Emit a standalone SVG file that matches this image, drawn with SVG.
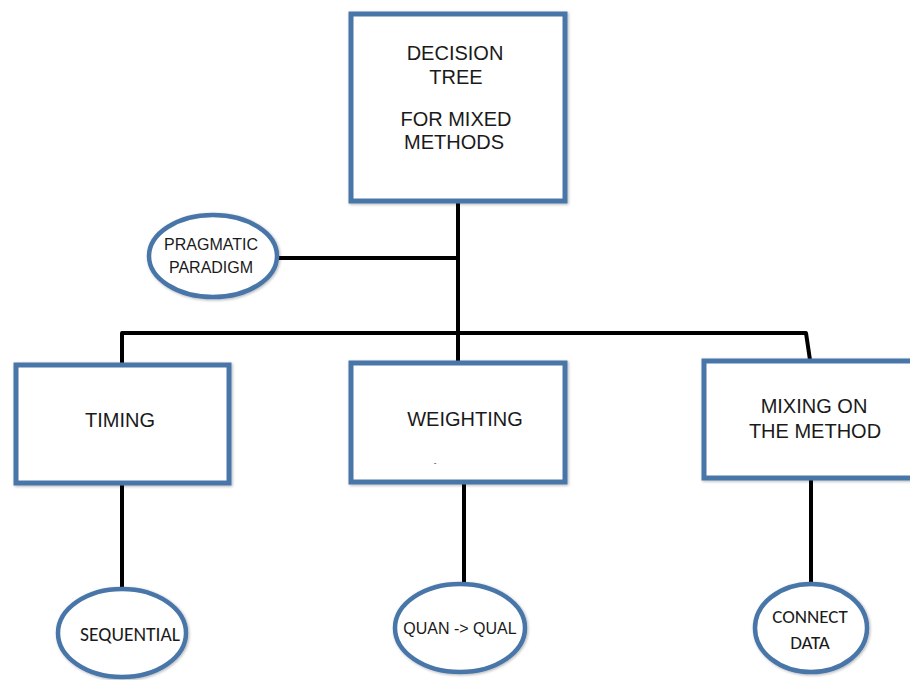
<svg xmlns="http://www.w3.org/2000/svg" width="910" height="680" viewBox="0 0 910 680">
<defs>
<filter id="sh" x="-10%" y="-10%" width="120%" height="120%">
<feGaussianBlur in="SourceAlpha" stdDeviation="1.5"/>
<feOffset dx="1" dy="1" result="b"/>
<feComponentTransfer><feFuncA type="linear" slope="0.3"/></feComponentTransfer>
<feMerge><feMergeNode/><feMergeNode in="SourceGraphic"/></feMerge>
</filter>
</defs>
<style>
.box{fill:#fff;stroke:#4a76a8;stroke-width:5;filter:url(#sh)}
.el{fill:#fff;stroke:#4a76a8;stroke-width:4.5;filter:url(#sh)}
.t{font-family:"Liberation Sans",Arial,sans-serif;fill:#1a1a1a;text-anchor:middle}
.c{font-family:"Carlito","Liberation Sans",Arial,sans-serif;fill:#1a1a1a;text-anchor:middle}
.ln{fill:none;stroke:#000;stroke-width:4;stroke-linejoin:round}
</style>
<rect width="910" height="680" fill="#fff"/>
<g id="connectors">
<path class="ln" d="M458 203 V363"/>
<path class="ln" d="M278 258 H458"/>
<path class="ln" d="M122 364 V333 H806 L810 360"/>
<path class="ln" d="M122 484 V589"/>
<path class="ln" d="M464 483 V583"/>
<path class="ln" d="M811 480 V583"/>
</g>
<g id="root">
<rect class="box" x="351" y="14" width="214" height="187"/>
<text class="t" font-size="20" x="455" y="60">DECISION</text>
<text class="t" font-size="20" x="456" y="84">TREE</text>
<text class="t" font-size="20" x="456" y="126">FOR MIXED</text>
<text class="t" font-size="20" x="454" y="149">METHODS</text>
</g>
<g id="pragmatic">
<ellipse class="el" cx="213" cy="256" rx="64" ry="41"/>
<text class="t" font-size="16" x="211" y="250">PRAGMATIC</text>
<text class="t" font-size="16" x="211" y="273">PARADIGM</text>
</g>
<g id="timing">
<rect class="box" x="16" y="365" width="213" height="118"/>
<text class="t" font-size="20" x="120" y="427">TIMING</text>
</g>
<g id="weighting">
<rect class="box" x="351" y="363" width="214" height="119"/>
<text class="t" font-size="20" x="465" y="426">WEIGHTING</text>
<text class="t" font-size="8" x="435" y="465">-</text>
</g>
<g id="mixing">
<rect class="box" x="704" y="361" width="210" height="117"/>
<text class="t" font-size="20" x="814" y="413">MIXING ON</text>
<text class="t" font-size="20" x="815" y="438">THE METHOD</text>
</g>
<g id="sequential">
<ellipse class="el" cx="122" cy="633" rx="64" ry="44"/>
<text class="c" font-size="19.5" x="130" y="641">SEQUENTIAL</text>
</g>
<g id="quanqual">
<ellipse class="el" cx="460" cy="628" rx="65" ry="44"/>
<text class="t" font-size="16" x="460" y="634">QUAN -&gt; QUAL</text>
</g>
<g id="connect">
<ellipse class="el" cx="811" cy="628" rx="56" ry="44"/>
<text class="c" font-size="19" x="810" y="623">CONNECT</text>
<text class="c" font-size="19" x="810" y="649">DATA</text>
</g>
</svg>
